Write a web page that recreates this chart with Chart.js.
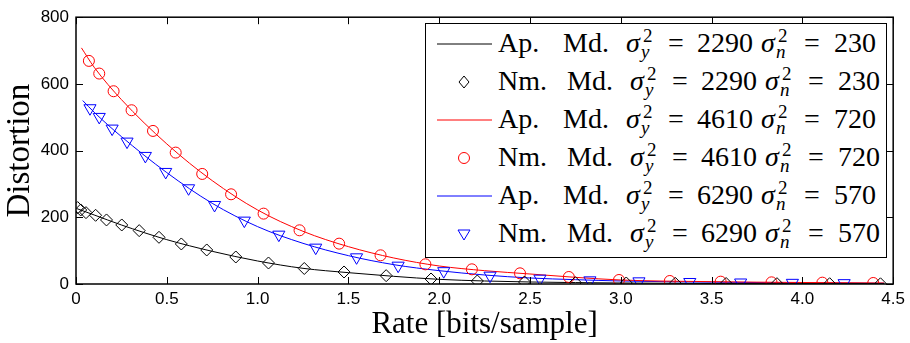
<!DOCTYPE html>
<html>
<head>
<meta charset="utf-8">
<script src="https://cdn.jsdelivr.net/npm/chart.js@4.4.0/dist/chart.umd.min.js"></script>
<style>
  html, body { margin: 0; padding: 0; background: #fff; }
  #wrap { position: relative; width: 910px; height: 343px; }
  #chart { display: block; }
  #legend {
    position: absolute; left: 425px; top: 23px; width: 462px; height: 235px;
    box-sizing: border-box; border: 1.3px solid #000; background: #fff;
    font-family: "Liberation Serif", serif; font-size: 28px; color: #000;
  }
  .row { position: absolute; left: 0; width: 100%; height: 28px; line-height: 28px; }
  .row span { position: absolute; top: 0; white-space: nowrap; }
  .row .small { font-size: 19px; line-height: 19px; }
  .row .it { font-style: italic; }
  .row svg { position: absolute; left: 0; top: 0; }
</style>
</head>
<body>
<div id="wrap">
  <canvas id="chart" width="910" height="343"></canvas>
  <div id="legend"></div>
</div>
<script>
// legend parameters
const sigmaY = [2290, 4610, 6290];
const sigmaN = [230, 720, 570];

// approximated model (curves)
const apRate1 = [0.005, 0.1, 0.25, 0.5, 0.75, 1, 1.25, 1.5, 1.75, 2, 2.25, 2.5, 3, 3.5, 4, 4.45];
const apDist1 = [226, 207, 177, 133, 98, 69, 47, 34, 23, 14, 9, 6, 3, 1.5, 0.8, 0.5];
const apRate2 = [0.03, 0.1, 0.25, 0.5, 0.75, 1, 1.25, 1.5, 1.75, 2, 2.25, 2.5, 2.75, 3, 3.5, 4, 4.45];
const apDist2 = [708, 650, 553, 420, 310, 222, 158, 112, 78, 54, 40, 30, 20, 12, 7, 4.5, 3];
const apRate3 = [0.037, 0.1, 0.25, 0.5, 0.75, 1, 1.25, 1.5, 1.75, 2, 2.25, 2.5, 2.75, 3, 3.5, 4, 4.45];
const apDist3 = [550, 515, 442, 334, 242, 172, 122, 85, 58, 40, 27, 18, 13, 9, 5.5, 3.3, 2.2];

// numerical model (markers)
const nmRate1 = [0.009, 0.026, 0.055, 0.108, 0.168, 0.252, 0.348, 0.457, 0.58, 0.72, 0.88, 1.06, 1.257, 1.476, 1.708, 1.955, 2.21, 2.47, 2.75, 3.03, 3.3, 3.58, 3.86, 4.15, 4.43];
const nmDist1 = [229, 222, 214, 206, 192, 177, 160, 140, 120, 102, 81, 63, 46.5, 36, 25, 15, 9, 6, 4, 3, 2, 1.5, 1, 0.8, 0.6];
const nmRate2 = [0.071, 0.128, 0.207, 0.306, 0.424, 0.549, 0.695, 0.854, 1.033, 1.231, 1.449, 1.677, 1.924, 2.18, 2.445, 2.714, 2.99, 3.27, 3.55, 3.83, 4.11, 4.39];
const nmDist2 = [669, 631, 578, 521, 459, 394, 330, 269, 211, 161, 121, 86, 59, 44, 32, 21, 12, 9, 7, 5, 4, 3];
const nmRate3 = [0.077, 0.128, 0.199, 0.281, 0.382, 0.494, 0.62, 0.763, 0.927, 1.117, 1.32, 1.545, 1.774, 2.025, 2.28, 2.555, 2.83, 3.1, 3.38, 3.66, 3.945, 4.23];
const nmDist3 = [527, 501, 466, 427, 384, 336, 287, 237, 190, 148, 109, 80, 55, 38.5, 25, 16, 11, 8, 6, 4.5, 3.5, 2.5];

const xTicks = [0, 0.5, 1, 1.5, 2, 2.5, 3, 3.5, 4, 4.5];
const yTicks = [0, 200, 400, 600, 800];

const colors = ["#000000", "#ff0000", "#0000ff"];
const markers = ["rectRot", "circle", "triangle"];

function pts(xs, ys) {
  return xs.map((x, i) => ({ x: x, y: ys[i] }));
}

function lineSet(xs, ys, color) {
  return {
    data: pts(xs, ys),
    borderColor: color,
    borderWidth: 1,
    pointRadius: 0,
    cubicInterpolationMode: "monotone",
    fill: false,
  };
}

function markerSet(xs, ys, color, style) {
  return {
    data: pts(xs, ys),
    showLine: false,
    borderColor: color,
    backgroundColor: "rgba(0,0,0,0)",
    borderWidth: 1,
    pointStyle: style,
    pointRadius: style === "triangle" ? 7 : style === "circle" ? 5.5 : 6,
    pointRotation: style === "triangle" ? 180 : 0,
  };
}

const datasets = [
  markerSet(nmRate1, nmDist1, colors[0], markers[0]),
  markerSet(nmRate2, nmDist2, colors[1], markers[1]),
  markerSet(nmRate3, nmDist3, colors[2], markers[2]),
  lineSet(apRate1, apDist1, colors[0]),
  lineSet(apRate2, apDist2, colors[1]),
  lineSet(apRate3, apDist3, colors[2]),
];

// box round the plot with inward ticks on all four sides
const framePlugin = {
  id: "frame",
  afterDraw(chart) {
    const { ctx, chartArea: a, scales } = chart;
    const len = 7;
    ctx.save();
    ctx.strokeStyle = "#000";
    ctx.lineWidth = 1;
    ctx.beginPath();
    xTicks.forEach((v) => {
      const px = Math.round(scales.x.getPixelForValue(v)) + 0.5;
      ctx.moveTo(px, a.bottom);
      ctx.lineTo(px, a.bottom - len);
      ctx.moveTo(px, a.top);
      ctx.lineTo(px, a.top + len);
    });
    yTicks.forEach((v) => {
      const py = Math.round(scales.y.getPixelForValue(v)) + 0.5;
      ctx.moveTo(a.left, py);
      ctx.lineTo(a.left + len, py);
      ctx.moveTo(a.right, py);
      ctx.lineTo(a.right - len, py);
    });
    ctx.stroke();
    ctx.lineWidth = 1.5;
    ctx.strokeRect(a.left, a.top, a.right - a.left, a.bottom - a.top);
    ctx.restore();
  },
};

const tickFont = { family: "Liberation Sans", size: 17 };

new Chart(document.getElementById("chart").getContext("2d"), {
  type: "line",
  data: { datasets: datasets },
  options: {
    responsive: false,
    animation: false,
    layout: { padding: { top: 14, right: 14, left: 0, bottom: 0 } },
    plugins: { legend: { display: false }, tooltip: { enabled: false } },
    scales: {
      x: {
        type: "linear",
        min: 0,
        max: 4.5,
        afterBuildTicks: (s) => { s.ticks = xTicks.map((v) => ({ value: v })); },
        ticks: { font: tickFont, color: "#000", padding: 5, maxRotation: 0 },
        grid: { display: false, drawTicks: false },
        border: { display: false },
        title: { display: true, text: "Rate [bits/sample]", font: { family: "Liberation Serif", size: 31 }, color: "#000", padding: { top: 0, bottom: 0 } },
        afterFit: (s) => { s.height = 59; },
      },
      y: {
        type: "linear",
        min: 0,
        max: 800,
        afterBuildTicks: (s) => { s.ticks = yTicks.map((v) => ({ value: v })); },
        ticks: { font: tickFont, color: "#000", padding: 7 },
        grid: { display: false, drawTicks: false },
        border: { display: false },
        title: { display: true, text: "Distortion", font: { family: "Liberation Serif", size: 33 }, color: "#000", padding: { top: 1, bottom: 0 } },
        afterFit: (s) => { s.width = 76; },
      },
    },
  },
  plugins: [framePlugin],
});

// legend with math labels
function symbolSvg(i, isLine) {
  let inner;
  const c = colors[i];
  if (isLine) {
    inner = `<line x1="11" y1="15" x2="66" y2="15" stroke="${c}" stroke-width="1"/>`;
  } else if (markers[i] === "rectRot") {
    inner = `<polygon points="38,9 43,15 38,21 33,15" fill="none" stroke="${c}" stroke-width="1"/>`;
  } else if (markers[i] === "circle") {
    inner = `<circle cx="38" cy="15" r="5.5" fill="none" stroke="${c}" stroke-width="1"/>`;
  } else {
    inner = `<polygon points="32,11 44,11 38,21" fill="none" stroke="${c}" stroke-width="1"/>`;
  }
  return `<svg width="80" height="28">${inner}</svg>`;
}

function sp(text, x, cls, top) {
  return `<span class="${cls || ""}" style="left:${x}px;top:${top || 0}px">${text}</span>`;
}

function sigma(x, sub) {
  return sp("σ", x, "it") + sp("2", x + 17, "small", -2.5) + sp(sub, x + 15, "small it", 13);
}

function buildLegend() {
  const box = document.getElementById("legend");
  const baselines = [29, 67, 105, 143, 181, 219];
  let html = "";
  let r = 0;
  sigmaY.forEach((sy, i) => {
    ["Ap.", "Nm."].forEach((word, k) => {
      const d = k === 0 ? 0 : 4;
      const top = baselines[r] - 23.5 - 1;
      html += `<div class="row" style="top:${top}px">` +
        symbolSvg(i, k === 0) +
        sp(word, 72) + sp("Md.", 137 + d) +
        sigma(200 + d, "y") + sp("=", 242 + d) + sp(String(sy), 271 + d) +
        sigma(335 + d, "n") + sp("=", 378 + d) + sp(String(sigmaN[i]), 408 + d) +
        `</div>`;
      r++;
    });
  });
  box.innerHTML = html;
}

buildLegend();
</script>
</body>
</html>
